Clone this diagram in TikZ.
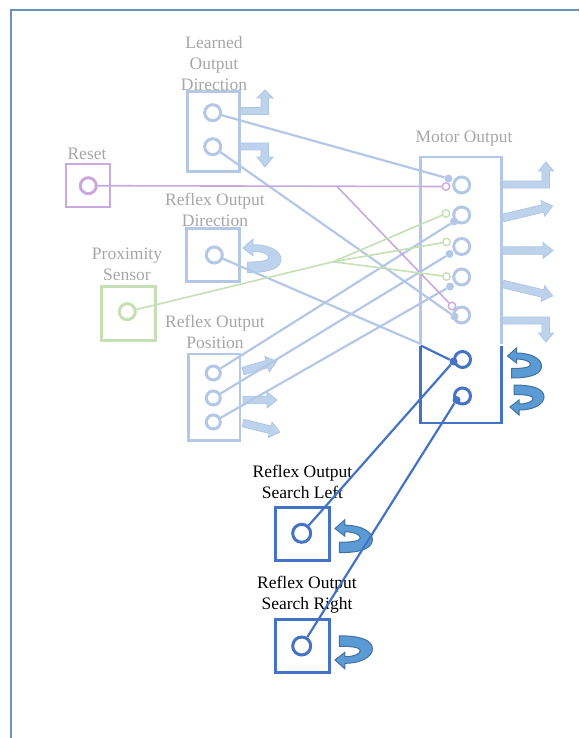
\documentclass[tikz,border=0pt]{standalone}
\usepackage{fontspec}
\setmainfont{Liberation Serif}
\definecolor{lblue}{HTML}{B4C7E7}
\definecolor{dblue}{HTML}{4472C4}
\definecolor{lpurple}{HTML}{C9A9DD}
\definecolor{lgreen}{HTML}{C5E0B4}
\definecolor{labgray}{HTML}{A6A6A6}
\definecolor{framec}{HTML}{7092B8}
\definecolor{larfill}{HTML}{BDD3EC}
\definecolor{lardraw}{HTML}{AEC6E6}
\definecolor{darfill}{HTML}{5B9BD5}
\definecolor{dardraw}{HTML}{41719C}
\tikzset{
  box/.style={rectangle,draw,line width=2.8pt,inner sep=0pt},
  ring/.style={circle,draw,line width=3pt,minimum size=16pt,inner sep=0pt},
  bdot/.style={circle,fill,inner sep=0pt,minimum size=8pt},
  hdot/.style={circle,draw,fill=white,line width=1.4pt,inner sep=0pt,minimum size=7.5pt},
  lbl/.style={font=\fontsize{17.5}{21}\selectfont,text=labgray,align=center,inner sep=0pt},
  conn/.style={line width=2.2pt},
  larrow/.style={fill=larfill,draw=lardraw,line width=0.8pt},
  darrow/.style={fill=darfill,draw=dardraw,line width=1pt},
  uturn/.pic={\path[pic actions] (0,0) -- (9,-8) -- (9,-3) .. controls (24,-3) and (34,3) .. (34,10) .. controls (34,17) and (26,22) .. (4,22) -- (4,12.5) .. controls (15,12.5) and (23,11.5) .. (23,8.5) .. controls (23,5.5) and (17,3) .. (9,3) -- (9,7) -- cycle;}
}
\newcommand\blockarr[4]{%
  \begin{scope}[shift={(#1,#2)},rotate=#3]
    \path[larrow] (0,-3.8) -- (#4-10,-3.8) -- (#4-10,-8) -- (#4,0) -- (#4-10,8) -- (#4-10,3.8) -- (0,3.8) -- cycle;
  \end{scope}}
\begin{document}
\begin{tikzpicture}[x=1pt,y=-1pt]
\useasboundingbox (0,0) rectangle (579,738);
% frame
\draw[framec,line width=1.5pt] (11,738) -- (11,10) -- (579,10);

% labels
\node[lbl] (lodT) at (214,63.5) {Learned\\Output\\Direction};
\node[lbl] (resetT) at (87,153.5) {Reset};
\node[lbl] (rodT) at (215,209.8) {Reflex Output\\Direction};
\node[lbl] (proxT) at (127,264) {Proximity\\Sensor};
\node[lbl] (ropT) at (215,331.5) {Reflex Output\\Position};
\node[lbl] (motT) at (464,138.5) {Motor Output};
\node[lbl,text=black] (slT) at (302.5,481.7) {Reflex Output\\Search Left};
\node[lbl,text=black] (srT) at (307,594.5) {Reflex Output\\Search Right};

% light block arrows
\path[larrow] (240,107.5) -- (261,107.5) -- (261,98) -- (257,98) -- (265,90) -- (273,98) -- (268.5,98) -- (268.5,114.5) -- (240,114.5) -- cycle;
\path[larrow] (240,143) -- (268.5,143) -- (268.5,157) -- (273,157) -- (265,167) -- (257,157) -- (261,157) -- (261,150) -- (240,150) -- cycle;
\path[larrow] (502,181) -- (542,181) -- (542,171) -- (538.5,171) -- (546,162) -- (553.5,171) -- (549.5,171) -- (549.5,188) -- (502,188) -- cycle;
\path[larrow] (502,317) -- (549.5,317) -- (549.5,333) -- (553.5,333) -- (546,342) -- (538.5,333) -- (542,333) -- (542,324) -- (502,324) -- cycle;
\blockarr{503}{218}{13.5}{51}
\blockarr{502}{250.5}{0}{51}
\blockarr{503}{284}{-13.5}{51}
\blockarr{243}{371}{16}{35}
\blockarr{243}{400}{0}{34}
\blockarr{243}{423}{-14}{38}
\pic[larrow,scale=1.12] at (243,248) {uturn};

% dark curved arrows
\pic[darrow] at (507.5,356) {uturn};
\pic[darrow,yscale=-1] at (510,407) {uturn};
\pic[darrow,scale=1.1] at (335,528.5) {uturn};
\pic[darrow,xscale=1.1,yscale=-1.1] at (335,660) {uturn};

% boxes
\node[box,draw=lblue,minimum width=52pt,minimum height=80pt] (lodB) at (213.3,131.7) {};
\node[box,draw=lpurple,minimum width=44pt,minimum height=43pt] (resetB) at (88,185.5) {};
\node[box,draw=lblue,minimum width=52.6pt,minimum height=53.4pt] (rodB) at (213,255) {};
\node[box,draw=lgreen,minimum width=54pt,minimum height=54pt] (proxB) at (128.7,313.7) {};
\node[box,draw=lblue,minimum width=51.7pt,minimum height=86.7pt] (ropB) at (214.2,397.4) {};
\node[box,draw=dblue,minimum width=54pt,minimum height=53.4pt] (slB) at (302.2,534) {};
\node[box,draw=dblue,minimum width=54pt,minimum height=53.4pt] (srB) at (302.5,646) {};
% motor output box (open outline)
\coordinate (mtl) at (420.7,157);
\coordinate (mtr) at (501.7,157);
\coordinate (mcl) at (420.7,344);
\coordinate (mcr) at (501.7,344);
\coordinate (mdl) at (420.7,345.5);
\coordinate (mdr) at (501.7,345.5);
\coordinate (mbl) at (420.7,423);
\coordinate (mbr) at (501.7,423);
\draw[lblue,line width=2.8pt] (mcl) -- (mtl) -- (mtr) -- (mcr);
\draw[dblue,line width=2.8pt] (mdl) -- (mbl) -- (mbr) -- (mdr);

% rings
\node[ring,draw=lblue] (lodA) at (212.7,112.7) {};
\node[ring,draw=lblue] (lodC) at (212.7,146.7) {};
\node[ring,draw=lpurple] (resetC) at (88.3,185.7) {};
\node[ring,draw=lblue] (rodC) at (214.3,255) {};
\node[ring,draw=lgreen] (proxC) at (127.3,311.7) {};
\node[ring,draw=lblue,minimum size=14pt] (ropA) at (213.3,373) {};
\node[ring,draw=lblue,minimum size=14pt] (ropC) at (213.3,398) {};
\node[ring,draw=lblue,minimum size=14pt] (ropD) at (213.3,422) {};
\node[ring,draw=dblue,minimum size=18pt] (slC) at (301.7,533.3) {};
\node[ring,draw=dblue,minimum size=18pt] (srC) at (301.7,646) {};
\node[ring,draw=lblue] (m1) at (461.7,185) {};
\node[ring,draw=lblue] (m2) at (461.7,215) {};
\node[ring,draw=lblue] (m3) at (461.7,246.5) {};
\node[ring,draw=lblue] (m4) at (461.7,277) {};
\node[ring,draw=lblue] (m5) at (461.7,315) {};
\node[ring,draw=dblue] (m6) at (462.5,359.5) {};
\node[ring,draw=dblue] (m7) at (462.5,396) {};

% junctions
\coordinate (pj) at (337,186.5);
\coordinate (gj) at (333.3,261.7);

% small dots
\node[bdot,fill=lblue] (bd1) at (448.5,178.5) {};
\node[hdot,draw=lpurple] (ph1) at (446,186.5) {};
\node[hdot,draw=lgreen] (gh2) at (446,213.5) {};
\node[bdot,fill=lblue] (bd2) at (454,221.5) {};
\node[hdot,draw=lgreen] (gh3) at (446.5,242) {};
\node[bdot,fill=lblue] (bd3) at (449.5,254) {};
\node[hdot,draw=lgreen] (gh4) at (446.5,276.5) {};
\node[bdot,fill=lblue] (bd4) at (450,286.5) {};
\node[hdot,draw=lpurple] (ph5) at (452,306) {};
\node[bdot,fill=lblue] (bd5) at (454.5,316.5) {};
\node[bdot,fill=dblue] (dd6) at (453.5,361.5) {};
\node[bdot,fill=dblue] (dd7) at (456.5,400) {};

% connectors
\begin{scope}[conn]
\draw[lblue] (lodA) -- (bd1);
\draw[lblue] (lodC) -- (bd5);
\draw[lblue] (rodC) -- (mcl);
\draw[dblue] (mdl) -- (dd6);
\draw[lblue] (ropA) -- (bd2);
\draw[lblue] (ropC) -- (bd3);
\draw[lblue] (ropD) -- (bd4);
\draw[lpurple,line width=1.6pt] (resetC) -- (ph1);
\draw[lpurple,line width=1.6pt] (pj) -- (ph5);
\draw[lgreen,line width=1.6pt] (proxC) -- (gj);
\draw[lgreen,line width=1.6pt] (gj) -- (gh2);
\draw[lgreen,line width=1.6pt] (gj) -- (gh3);
\draw[lgreen,line width=1.6pt] (gj) -- (gh4);
\draw[dblue] (slC) -- (dd6);
\draw[dblue] (srC) -- (dd7);
\end{scope}
\end{tikzpicture}
\end{document}
